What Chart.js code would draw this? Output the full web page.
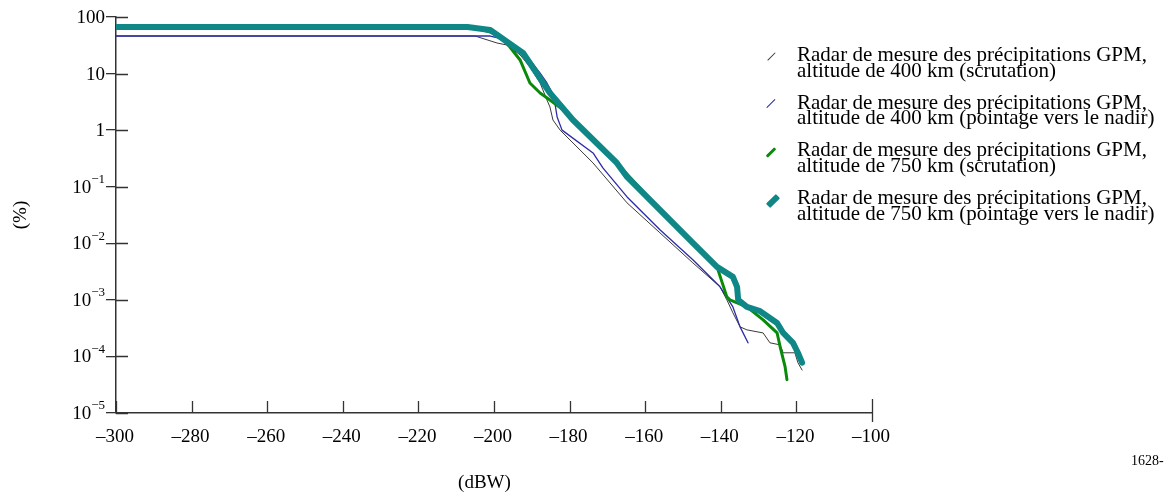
<!DOCTYPE html>
<html>
<head>
<meta charset="utf-8">
<script src="https://cdn.jsdelivr.net/npm/chart.js@4/dist/chart.umd.min.js"></script>
<style>
  html, body { margin: 0; padding: 0; background: #fff; overflow: hidden; }
  #wrap { position: relative; width: 1168px; height: 501px; }
  canvas { position: absolute; left: 0; top: 0; }
  .leg { position: absolute; left: 797px; font-family: 'Liberation Serif', 'Times New Roman', serif; font-size: 21px; line-height: 15.5px; color: #000; white-space: nowrap; }
  .sym { position: absolute; height: 2px; transform: rotate(-45deg); border-radius: 1px; }
  #ref { position: absolute; left: 1131px; top: 453px; font-family: 'Liberation Serif', 'Times New Roman', serif; font-size: 14px; color: #000; white-space: nowrap; }
</style>
</head>
<body>
<div id="wrap">
  <canvas id="c" width="1168" height="501"></canvas>
  <div id="legend"></div>
  <div id="ref">1628-</div>
</div>
<script>
// ---- Data (x: dBW, y: %) ----
const seriesLabels = [
  ['Radar de mesure des précipitations GPM,', 'altitude de 400 km (scrutation)'],
  ['Radar de mesure des précipitations GPM,', 'altitude de 400 km (pointage vers le nadir)'],
  ['Radar de mesure des précipitations GPM,', 'altitude de 750 km (scrutation)'],
  ['Radar de mesure des précipitations GPM,', 'altitude de 750 km (pointage vers le nadir)']
];

const scan400X = [-300, -205, -199.2, -196.6, -193.1, -190.5, -187.8, -186, -185.2, -184.4, -182.5, -173.8, -164.8, -156.1, -147.4, -140.2, -138.4, -136.8, -134.9, -133.1, -128.8, -127, -124.3, -123.5, -120.4, -119.6, -118.5];
const scan400Y = [46.1, 46.1, 34.7, 32, 21.4, 13.1, 6.82, 3.42, 2.57, 1.51, 1.0, 0.263, 0.0518, 0.0153, 0.00451, 0.0017, 0.001, 0.00059, 0.000333, 0.000295, 0.00026, 0.000174, 0.00016, 0.000116, 0.000116, 0.0000776, 0.0000575];

const nadir400X = [-300, -201, -196.6, -193.1, -190.5, -187.8, -186, -184.7, -183.9, -183.3, -182, -173.8, -171.2, -164.8, -156.1, -147.4, -140.2, -136.8, -134.9, -132.8];
const nadir400Y = [46.1, 46.1, 39.3, 24.1, 17.4, 10.2, 6.82, 4.73, 3.02, 1.71, 1.0, 0.395, 0.215, 0.066, 0.0173, 0.0051, 0.0017, 0.00075, 0.000333, 0.000174];

const scan750X = [-300, -206, -199, -195.8, -193.1, -190.5, -187.8, -185.2, -181.7, -179.1, -167.5, -156.1, -147.4, -141, -138.4, -137.6, -133.1, -128.8, -125.1, -124.3, -123, -122.5];
const scan750Y = [66.5, 66.5, 50, 29.5, 17.4, 6.82, 4.54, 3.42, 2.28, 1.51, 0.263, 0.0389, 0.0102, 0.00383, 0.00113, 0.001, 0.00075, 0.000444, 0.00026, 0.000148, 0.000066, 0.0000389];

const nadir750X = [-300, -207, -201, -192.3, -185.2, -179.1, -167.5, -164.8, -156.1, -147.4, -141, -136.8, -135.7, -135.4, -133.1, -129.6, -125.1, -123.5, -120.9, -119.6, -118.5];
const nadir750Y = [66.5, 66.5, 59, 23.1, 4.54, 1.51, 0.263, 0.149, 0.0389, 0.0102, 0.00383, 0.00255, 0.0017, 0.001, 0.00075, 0.00063, 0.00039, 0.00026, 0.000174, 0.000116, 0.0000776];

const xTickValues = [-300, -280, -260, -240, -220, -200, -180, -160, -140, -120, -100];
const xTickLabels = ['–300', '–280', '–260', '–240', '–220', '–200', '–180', '–160', '–140', '–120', '–100'];
const yTickValues = [1e-5, 1e-4, 1e-3, 1e-2, 1e-1, 1, 10, 100];
const yTickBase = ['10', '10', '10', '10', '10', '1', '10', '100'];
const yTickExp = ['−5', '−4', '−3', '−2', '−1', '', '', ''];

const colors = ['#3a3a3a', '#2b2ba6', '#0a8a0a', '#0f8787'];
const widths = [1, 1.3, 3, 6];
const drawOrder = [3, 2, 1, 0];

const zip = (xs, ys) => xs.map((x, i) => ({ x: x, y: ys[i] }));
const seriesData = [zip(scan400X, scan400Y), zip(nadir400X, nadir400Y), zip(scan750X, scan750Y), zip(nadir750X, nadir750Y)];

const FONT = "'Liberation Serif', 'Times New Roman', serif";
const AXIS = '#333333';
const yIndex = v => yTickValues.findIndex(t => Math.abs(Math.log10(t) - Math.log10(v)) < 1e-6);

const innerTicks = {
  id: 'innerTicks',
  afterDraw(chart) {
    const ctx = chart.ctx, a = chart.chartArea;
    const xs = chart.scales.x, ys = chart.scales.y;
    ctx.save();
    ctx.strokeStyle = AXIS;
    ctx.lineWidth = 1.3;
    ctx.beginPath();
    yTickValues.forEach(v => {
      const py = Math.round(ys.getPixelForValue(v)) + 0.5;
      ctx.moveTo(a.left, py); ctx.lineTo(a.left + 12, py);
    });
    xTickValues.forEach((v, i) => {
      const px = Math.round(xs.getPixelForValue(v)) + 0.5;
      ctx.moveTo(px, a.bottom);
      ctx.lineTo(px, a.bottom - 12);
      if (i === xTickValues.length - 1) { ctx.moveTo(px, a.bottom - 14); ctx.lineTo(px, a.bottom + 9); }
    });
    ctx.stroke();

    // y tick labels with true superscript exponents
    ctx.fillStyle = '#000';
    ctx.textBaseline = 'middle';
    ctx.textAlign = 'right';
    const xr = a.left - 11;
    yTickValues.forEach((v, i) => {
      const py = ys.getPixelForValue(v);
      let x = xr;
      if (yTickExp[i]) {
        ctx.font = '13px ' + FONT;
        ctx.fillText(yTickExp[i], x, py - 7);
        x -= ctx.measureText(yTickExp[i]).width;
      }
      ctx.font = '19px ' + FONT;
      ctx.fillText(yTickBase[i], x, py + 1);
    });
    ctx.restore();
  }
};

new Chart(document.getElementById('c'), {
  type: 'line',
  data: {
    datasets: seriesData.map((d, i) => ({
      label: seriesLabels[i].join(' '),
      data: d,
      borderColor: colors[i],
      backgroundColor: colors[i],
      borderWidth: widths[i],
      pointRadius: 0,
      tension: 0,
      fill: false,
      borderJoinStyle: 'round',
      borderCapStyle: 'round',
      order: drawOrder[i]
    }))
  },
  options: {
    responsive: false,
    animation: false,
    devicePixelRatio: 1,
    layout: { padding: { left: 0, right: 296, top: 17, bottom: 0 } },
    plugins: { legend: { display: false }, tooltip: { enabled: false } },
    scales: {
      x: {
        type: 'linear', min: -300, max: -100,
        afterFit: s => { s.height = 88; },
        afterBuildTicks: s => { s.ticks = xTickValues.map(v => ({ value: v })); },
        ticks: {
          callback: v => xTickLabels[xTickValues.indexOf(v)],
          font: { family: FONT, size: 19 }, color: '#000', padding: 13, maxRotation: 0, autoSkip: false, labelOffset: -1
        },
        grid: { drawOnChartArea: false, drawTicks: false },
        border: { display: true, color: AXIS, width: 1.5 },
        title: { display: true, text: '(dBW)\u00a0\u00a0\u00a0\u00a0', font: { family: FONT, size: 19 }, color: '#000', padding: { top: 0, bottom: 7 } }
      },
      y: {
        type: 'logarithmic', min: 1e-5, max: 100,
        afterFit: s => { s.width = 116; },
        afterBuildTicks: s => { s.ticks = yTickValues.map(v => ({ value: v })); },
        ticks: {
          callback: v => { const i = yIndex(v); return yTickBase[i] + yTickExp[i]; },
          font: { family: FONT, size: 19 }, color: 'rgba(0,0,0,0)', padding: 4, autoSkip: false
        },
        grid: { drawOnChartArea: false, drawTicks: true, tickLength: 10, color: AXIS, lineWidth: 1.3 },
        border: { display: true, color: AXIS, width: 1.5 },
        title: { display: true, text: '(%)', font: { family: FONT, size: 19 }, color: '#000', padding: { top: 10, bottom: 0 } }
      }
    }
  },
  plugins: [innerTicks]
});

// ---- HTML legend ----
const legend = document.getElementById('legend');
const symPos = [[771, 57, 11], [771, 104, 12], [771, 152, 12], [773, 201, 14]];
seriesLabels.forEach((lines, i) => {
  const t = document.createElement('div');
  t.className = 'leg';
  t.style.top = (47 + i * 47.7) + 'px';
  t.innerHTML = lines.join('<br>');
  legend.appendChild(t);
  const s = document.createElement('div');
  s.className = 'sym';
  const [cx, cy, len] = symPos[i];
  const h = Math.max(1.2, widths[i]);
  s.style.width = len + 'px';
  s.style.height = h + 'px';
  s.style.left = (cx - len / 2) + 'px';
  s.style.top = (cy - h / 2) + 'px';
  s.style.background = colors[i];
  legend.appendChild(s);
});
</script>
</body>
</html>
